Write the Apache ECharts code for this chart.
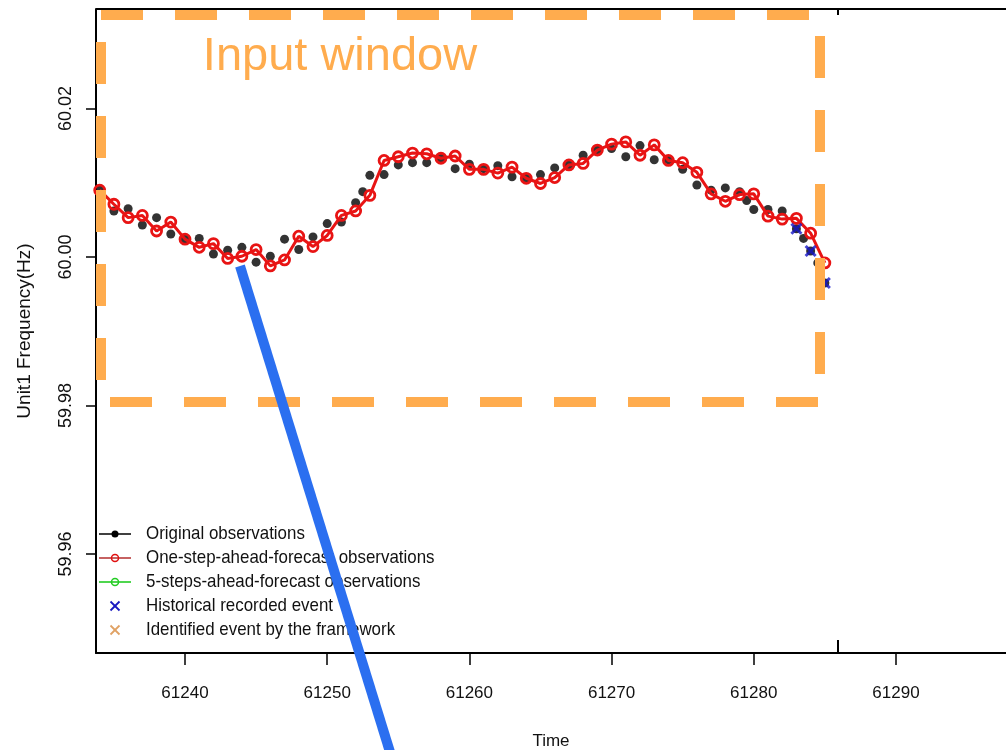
<!DOCTYPE html>
<html>
<head>
<meta charset="utf-8">
<script src="https://cdn.jsdelivr.net/npm/echarts@6/dist/echarts.min.js"></script>
<style>
  html, body { margin: 0; padding: 0; background: #fff; }
  #chart { width: 1006px; height: 750px; }
</style>
</head>
<body>
<div id="chart"></div>
<script>
// Time steps of the one-second frequency samples
const timeSteps = [
  61234, 61235, 61236, 61237, 61238, 61239, 61240, 61241, 61242, 61243,
  61244, 61245, 61246, 61247, 61248, 61249, 61250, 61251, 61252, 61253,
  61254, 61255, 61256, 61257, 61258, 61259, 61260, 61261, 61262, 61263,
  61264, 61265, 61266, 61267, 61268, 61269, 61270, 61271, 61272, 61273,
  61274, 61275, 61276, 61277, 61278, 61279, 61280, 61281, 61282, 61283,
  61284, 61285
];

// Measured frequency (Hz)
const originalObs = [
  60.0092, 60.0062, 60.0065, 60.0043, 60.0053, 60.0031, 60.0024, 60.0025, 60.0004, 60.0009,
  60.0013, 59.9993, 60.0001, 60.0024, 60.0010, 60.0027, 60.0045, 60.0047, 60.0073, 60.0110,
  60.0111, 60.0124, 60.0127, 60.0127, 60.0133, 60.0119, 60.0125, 60.0119, 60.0123, 60.0108,
  60.0106, 60.0111, 60.0120, 60.0124, 60.0137, 60.0144, 60.0146, 60.0135, 60.0150, 60.0131,
  60.0131, 60.0118, 60.0097, 60.0090, 60.0093, 60.0088, 60.0064, 60.0064, 60.0062, 60.0038,
  60.0008, 59.9965
];

// Additional measurements between the whole-second steps
const extraObsTimes = [61252.5, 61279.5, 61283.5, 61284.5];
const extraObsValues = [60.0088, 60.0076, 60.0025, 59.9992];

// One-step-ahead forecast (Hz)
const oneStepForecast = [
  60.0090, 60.0071, 60.0053, 60.0056, 60.0035, 60.0047, 60.0024, 60.0013, 60.0018, 59.9998,
  60.0001, 60.0010, 59.9988, 59.9996, 60.0028, 60.0014, 60.0029, 60.0056, 60.0062, 60.0083,
  60.0130, 60.0135, 60.0140, 60.0139, 60.0133, 60.0136, 60.0118, 60.0118, 60.0113, 60.0121,
  60.0106, 60.0099, 60.0107, 60.0124, 60.0126, 60.0144, 60.0152, 60.0155, 60.0137, 60.0151,
  60.0130, 60.0127, 60.0114, 60.0085, 60.0075, 60.0084, 60.0085, 60.0055, 60.0051, 60.0052,
  60.0032, 59.9992
];

// Historical recorded event
const eventTimes = [61283, 61284, 61285];
const eventValues = [60.0038, 60.0008, 59.9965];

// Axis ticks
const xTicks = [61240, 61250, 61260, 61270, 61280, 61290];
const yTicks = [59.96, 59.98, 60.00, 60.02];

const legendLabels = [
  'Original observations',
  'One-step-ahead-forecast observations',
  '5-steps-ahead-forecast observations',
  'Historical recorded event',
  'Identified event by the framework'
];

const SANS = '"Liberation Sans", Arial, sans-serif';
const ORANGE = '#FFAC4E';

const obsData = timeSteps.map((t, i) => [t, originalObs[i]])
  .concat(extraObsTimes.map((t, i) => [t, extraObsValues[i]]));
const fcData = timeSteps.map((t, i) => [t, oneStepForecast[i]]);
const evData = eventTimes.map((t, i) => [t, eventValues[i]]);

const chart = echarts.init(document.getElementById('chart'), null, { renderer: 'canvas' });

// Legend drawn R-style: short line sample with marker, then text
const legendRowY = [534, 558, 582, 606, 630];
const legendEls = [];
const sampleX0 = 99, sampleX1 = 131, markX = 115, textX = 146;
function crossEl(cx, cy, color) {
  const h = 4.5;
  return [
    { type: 'line', z: 110, shape: { x1: cx - h, y1: cy - h, x2: cx + h, y2: cy + h }, style: { stroke: color, lineWidth: 1.8 } },
    { type: 'line', z: 110, shape: { x1: cx - h, y1: cy + h, x2: cx + h, y2: cy - h }, style: { stroke: color, lineWidth: 1.8 } }
  ];
}
// row 1: black line + filled dot
legendEls.push({ type: 'line', z: 110, shape: { x1: sampleX0, y1: legendRowY[0], x2: sampleX1, y2: legendRowY[0] }, style: { stroke: '#000', lineWidth: 1.5 } });
legendEls.push({ type: 'circle', z: 111, shape: { cx: markX, cy: legendRowY[0], r: 3.5 }, style: { fill: '#000' } });
// row 2: red line + open circle
legendEls.push({ type: 'line', z: 110, shape: { x1: sampleX0, y1: legendRowY[1], x2: sampleX1, y2: legendRowY[1] }, style: { stroke: '#B83A3A', lineWidth: 1.6 } });
legendEls.push({ type: 'circle', z: 111, shape: { cx: markX, cy: legendRowY[1], r: 3.5 }, style: { fill: 'rgba(0,0,0,0)', stroke: '#E01010', lineWidth: 1.5 } });
// row 3: green line + open circle
legendEls.push({ type: 'line', z: 110, shape: { x1: sampleX0, y1: legendRowY[2], x2: sampleX1, y2: legendRowY[2] }, style: { stroke: '#22CC22', lineWidth: 1.6 } });
legendEls.push({ type: 'circle', z: 111, shape: { cx: markX, cy: legendRowY[2], r: 3.5 }, style: { fill: 'rgba(0,0,0,0)', stroke: '#22CC22', lineWidth: 1.5 } });
// rows 4-5: crosses
crossEl(markX, legendRowY[3], '#1818C0').forEach(e => legendEls.push(e));
crossEl(markX, legendRowY[4], '#E0A264').forEach(e => legendEls.push(e));
legendLabels.forEach((txt, i) => {
  legendEls.push({
    type: 'text', z: 110, x: textX, y: legendRowY[i], scaleX: 0.89,
    style: { text: txt, fill: '#111', font: '19px ' + SANS, textVerticalAlign: 'middle', textAlign: 'left' }
  });
});

// Dashed "input window" frame
function dashedLine(x1, y1, x2, y2) {
  return {
    type: 'line', z: 120,
    shape: { x1, y1, x2, y2 },
    style: { stroke: ORANGE, lineWidth: 10, lineDash: [42, 32], lineCap: 'butt' }
  };
}

const frameEls = [
  // top and right parts of the plot box
  { type: 'line', z: 90, shape: { x1: 96, y1: 9, x2: 1006, y2: 9 }, style: { stroke: '#000', lineWidth: 2 } },
  { type: 'line', z: 90, shape: { x1: 838, y1: 9, x2: 838, y2: 15 }, style: { stroke: '#000', lineWidth: 2 } },
  { type: 'line', z: 90, shape: { x1: 838, y1: 640, x2: 838, y2: 653 }, style: { stroke: '#000', lineWidth: 2 } },
  dashedLine(101, 15, 820, 15),
  dashedLine(101, 42, 101, 400),
  dashedLine(110, 402, 830, 402),
  dashedLine(820, 36, 820, 400),
  {
    type: 'text', z: 120, x: 340, y: 57,
    style: { text: 'Input window', fill: ORANGE, font: '47px ' + SANS, textAlign: 'center', textVerticalAlign: 'middle' }
  },
  // pointer stroke
  {
    type: 'line', z: 130,
    shape: { x1: 240, y1: 266, x2: 390, y2: 752 },
    style: { stroke: '#2B6FF0', lineWidth: 10, lineCap: 'butt' }
  }
];

const option = {
  animation: false,
  backgroundColor: '#fff',
  grid: { left: 96, top: 9, width: 910, height: 644, containLabel: false, outerBoundsMode: 'none' },
  xAxis: {
    type: 'value',
    min: 61233.74,
    max: 61297.74,
    name: 'Time',
    nameLocation: 'middle',
    nameGap: 80,
    nameTextStyle: { fontFamily: SANS, fontSize: 17, color: '#111' },
    axisLine: { show: true, onZero: false, lineStyle: { color: '#000', width: 2 } },
    axisTick: { show: true, length: 12, customValues: xTicks, lineStyle: { color: '#000', width: 1.5 } },
    axisLabel: {
      customValues: xTicks, margin: 32, fontFamily: SANS, fontSize: 17, color: '#111',
      formatter: v => String(v)
    },
    splitLine: { show: false }
  },
  yAxis: {
    type: 'value',
    min: 59.94666,
    max: 60.0334,
    name: 'Unit1 Frequency(Hz)',
    nameLocation: 'middle',
    nameRotate: 90,
    nameGap: 62,
    nameTextStyle: { fontFamily: SANS, fontSize: 19, color: '#111' },
    axisLine: { show: true, onZero: false, lineStyle: { color: '#000', width: 2 } },
    axisTick: { show: true, length: 10, customValues: yTicks, lineStyle: { color: '#000', width: 1.5 } },
    axisLabel: {
      customValues: yTicks, rotate: 90, margin: 21,
      fontFamily: SANS, fontSize: 18, color: '#111',
      formatter: v => v.toFixed(2)
    },
    splitLine: { show: false }
  },
  series: [
    {
      name: legendLabels[0],
      type: 'scatter',
      data: obsData,
      symbol: 'circle',
      symbolSize: 9,
      itemStyle: { color: '#000' },
      z: 2
    },
    {
      name: legendLabels[1],
      type: 'line',
      data: fcData,
      symbol: 'circle',
      symbolSize: 10,
      showAllSymbol: true,
      lineStyle: { color: '#E81414', width: 3 },
      itemStyle: { color: 'rgba(255,255,255,0)', borderColor: '#E81414', borderWidth: 2.8 },
      z: 3
    },
    {
      name: legendLabels[3],
      type: 'scatter',
      data: evData,
      symbol: 'path://M0,0L10,10M10,0L0,10',
      symbolSize: 10,
      itemStyle: { color: 'none', borderColor: '#1515C8', borderWidth: 3 },
      z: 4
    }
  ],
  graphic: { elements: frameEls.concat(legendEls) }
};

chart.setOption(option);
</script>
</body>
</html>
